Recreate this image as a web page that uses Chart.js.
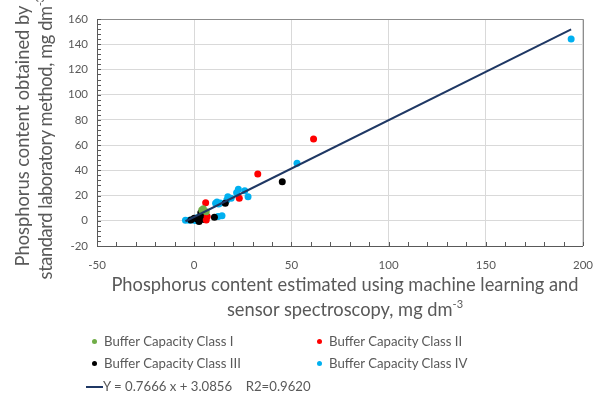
<!DOCTYPE html>
<html>
<head>
<meta charset="utf-8">
<script src="https://cdn.jsdelivr.net/npm/chart.js@4"></script>
<style>
  body { margin: 0; background: #fff; }
  #wrap { position: relative; width: 605px; height: 394px; overflow: hidden; font-family: Lato, "Open Sans", sans-serif; color: #595959; }
  #wrap canvas { position: absolute; left: 0; top: 0; }
  .xtitle { position: absolute; left: 0; width: 690px; text-align: center; font-size: 18.3px; white-space: nowrap; }
  .ytitle { position: absolute; width: 300px; text-align: center; font-size: 18.3px; white-space: nowrap; transform: rotate(-90deg); transform-origin: center center; }
  sup { font-size: 11px; vertical-align: 0; position: relative; top: -8px; }
  .leg { position: absolute; font-size: 13.2px; line-height: 16px; white-space: nowrap; }
  .dot { position: absolute; width: 5px; height: 5px; border-radius: 50%; }
  .ln { position: absolute; width: 17px; height: 2px; background: #1f3864; }
</style>
</head>
<body>
<div id="wrap">
  <canvas id="chart" width="605" height="394"></canvas>
  <div class="xtitle" style="top:273px">Phosphorus content estimated using machine learning and</div>
  <div class="xtitle" style="top:298px">sensor spectroscopy, mg dm<sup>-3</sup></div>
  <div class="ytitle" style="left:-128px;top:125px">Phosphorus content obtained by</div>
  <div class="ytitle" style="left:-105px;top:127px;letter-spacing:-0.4px">standard laboratory method, mg dm<sup>-3</sup></div>

  <div class="dot" style="left:92px;top:339px;background:#70ad47"></div>
  <div class="leg" style="left:104px;top:333px">Buffer Capacity Class I</div>
  <div class="dot" style="left:317px;top:339px;background:#ff0000"></div>
  <div class="leg" style="left:329px;top:333px">Buffer Capacity Class II</div>
  <div class="dot" style="left:92px;top:361px;background:#000000"></div>
  <div class="leg" style="left:104px;top:355px">Buffer Capacity Class III</div>
  <div class="dot" style="left:317px;top:361px;background:#00b0f0"></div>
  <div class="leg" style="left:329px;top:355px">Buffer Capacity Class IV</div>
  <div class="ln" style="left:86px;top:386px"></div>
  <div class="leg" style="left:103px;top:378px">Y = 0.7666 x + 3.0856&nbsp;&nbsp;&nbsp; R2=0.9620</div>
</div>
<script>
const classI_x = [3.9, 4.7, 6.2];
const classI_y = [8.6, 9.6, 7.2];

const classII_x = [5.9, 6.7, 6.2, 23.2, 32.7, 61.4];
const classII_y = [14.2, 3.3, 0.6, 17.8, 37.1, 64.9];

const classIII_x = [-1.7, 0.0, 1.7, 3.4, 2.5, 3.4, 4.2, 5.0, 10.4, 16.0, 45.3];
const classIII_y = [0.6, 2.0, 1.4, 4.0, -0.5, 6.4, 3.3, 1.0, 2.8, 13.9, 31.0];

const classIV_x = [-4.5, -2.5, -1.0, 0.5, 1.5, 2.5, 11.0, 12.6, 11.7, 13.4, 12.3, 14.3,
    17.3, 19.0, 22.7, 21.8, 26.0, 27.7, 16.8, 52.9, 193.9];
const classIV_y = [0.4, 0.5, 0.8, 0.3, 2.5, 1.5, 13.9, 13.3, 14.8, 14.0, 3.3, 4.0,
    19.1, 17.8, 25.0, 22.3, 23.9, 19.1, 16.5, 45.6, 144.2];

// trend line as given in the legend
const slope = 0.7666;
const intercept = 3.0856;
const trendX = [-4.5, 193.9];

const xTicks = [-50, 0, 50, 100, 150, 200];
const yTicks = [-20, 0, 20, 40, 60, 80, 100, 120, 140, 160];

function pts(xs, ys) {
    return xs.map((x, i) => ({ x: x, y: ys[i] }));
}

function pointSet(label, xs, ys, color) {
    return {
        label: label,
        data: pts(xs, ys),
        backgroundColor: color,
        borderWidth: 0,
        pointRadius: 3.5,
        pointHoverRadius: 3.5
    };
}

// inside tick marks, major and minor, plus top/right frame
const frameTicks = {
    id: 'frameTicks',
    afterDraw(chart) {
        const ctx = chart.ctx;
        const a = chart.chartArea;
        const xs = chart.scales.x, ys = chart.scales.y;
        ctx.save();
        ctx.strokeStyle = '#8c8c8c';
        ctx.lineWidth = 1;
        ctx.beginPath();
        ctx.moveTo(a.left, a.top + 0.5);
        ctx.lineTo(a.right + 0.5, a.top + 0.5);
        ctx.lineTo(a.right + 0.5, a.bottom);
        ctx.stroke();
        ctx.strokeStyle = '#595959';
        ctx.beginPath();
        for (let v = -20; v <= 160; v += 4) {
            const y = Math.round(ys.getPixelForValue(v)) + 0.5;
            ctx.moveTo(a.left, y);
            ctx.lineTo(a.left + 4, y);
        }
        for (let v = -50; v <= 200; v += 10) {
            const x = Math.round(xs.getPixelForValue(v)) + 0.5;
            ctx.moveTo(x, a.bottom);
            ctx.lineTo(x, a.bottom - 4);
        }
        ctx.stroke();
        ctx.restore();
    }
};

const ctx = document.getElementById('chart').getContext('2d');
new Chart(ctx, {
    type: 'scatter',
    data: {
        datasets: [
            {
                type: 'line',
                label: 'Trend',
                data: trendX.map(x => ({ x: x, y: slope * x + intercept })),
                borderColor: '#1f3864',
                borderWidth: 2,
                pointRadius: 0,
                fill: false
            },
            pointSet('Buffer Capacity Class I', classI_x, classI_y, '#70ad47'),
            pointSet('Buffer Capacity Class II', classII_x, classII_y, '#ff0000'),
            pointSet('Buffer Capacity Class III', classIII_x, classIII_y, '#000000'),
            pointSet('Buffer Capacity Class IV', classIV_x, classIV_y, '#00b0f0')
        ]
    },
    options: {
        responsive: false,
        animation: false,
        layout: { padding: { top: 19, right: 12, left: 0, bottom: 0 } },
        plugins: {
            legend: { display: false },
            tooltip: { enabled: false }
        },
        scales: {
            x: {
                type: 'linear',
                min: -50,
                max: 200,
                afterBuildTicks: s => { s.ticks = xTicks.map(v => ({ value: v })); },
                afterFit: s => { s.height = 148; },
                grid: { color: '#d9d9d9', drawTicks: false },
                border: { color: '#595959' },
                ticks: { padding: 12, color: '#595959', font: { family: 'Lato', size: 11.5 } }
            },
            y: {
                type: 'linear',
                min: -20,
                max: 160,
                afterBuildTicks: s => { s.ticks = yTicks.map(v => ({ value: v })); },
                afterFit: s => { s.width = 97; },
                grid: { color: '#d9d9d9', drawTicks: false },
                border: { color: '#595959' },
                ticks: { padding: 9, color: '#595959', font: { family: 'Lato', size: 11.5 } }
            }
        }
    },
    plugins: [frameTicks]
});
</script>
</body>
</html>
